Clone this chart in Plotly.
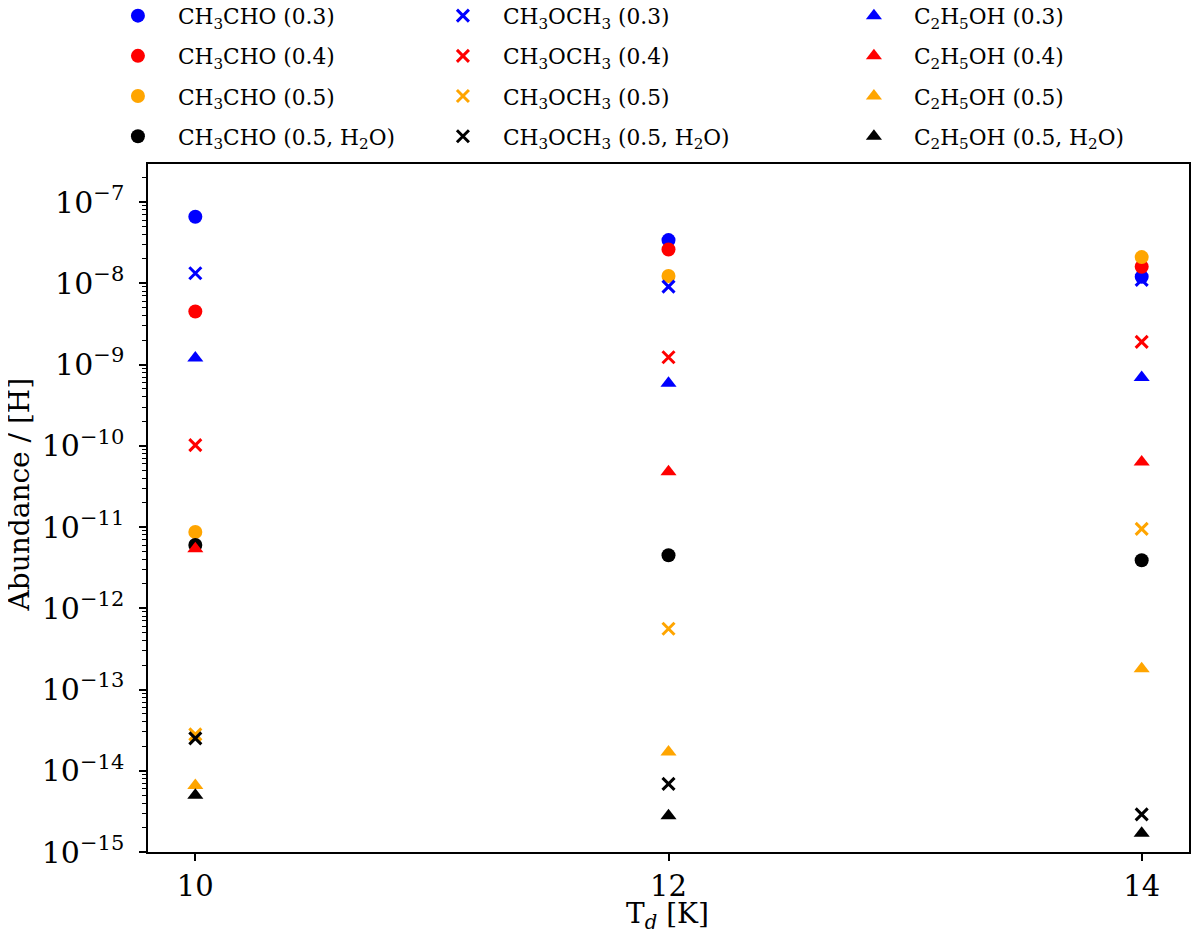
import plotly.graph_objects as go

# temperaturas del polvo
temps = [10, 12, 14]

# CH3CHO
acet_03 = [6.6e-8, 3.4e-8, 1.2e-8]
acet_04 = [4.5e-9, 2.6e-8, 1.6e-8]
acet_05 = [8.7e-12, 1.23e-8, 2.1e-8]
acet_h2o = [6.0e-12, 4.5e-12, 3.9e-12]

# CH3OCH3
dme_03 = [1.33e-8, 9.1e-9, 1.1e-8]
dme_04 = [1.02e-10, 1.23e-9, 1.9e-9]
dme_05 = [2.8e-14, 5.6e-13, 9.5e-12]
dme_h2o = [2.5e-14, 6.9e-15, 2.9e-15]

# C2H5OH
eth_03 = [1.2e-9, 5.9e-10, 6.9e-10]
eth_04 = [5.4e-12, 4.8e-11, 6.3e-11]
eth_05 = [6.6e-15, 1.7e-14, 1.8e-13]
eth_h2o = [5.0e-15, 2.8e-15, 1.7e-15]

# etiquetas del eje y
y_exps = [-15, -14, -13, -12, -11, -10, -9, -8, -7]
ytick_vals = [10.0 ** e for e in y_exps]
ytick_text = [f"10<sup>\u2212{-e}</sup>\u2009\u200a" for e in y_exps]

cases = ["(0.3)", "(0.4)", "(0.5)", "(0.5, H<sub>2</sub>O)"]
colors = ["blue", "red", "orange", "black"]

species = [
    ("CH<sub>3</sub>CHO", "circle", [acet_03, acet_04, acet_05, acet_h2o], "legend"),
    ("CH<sub>3</sub>OCH<sub>3</sub>", "x-thin", [dme_03, dme_04, dme_05, dme_h2o], "legend2"),
    ("C<sub>2</sub>H<sub>5</sub>OH", "triangle-up", [eth_03, eth_04, eth_05, eth_h2o], "legend3"),
]

FONT = "DejaVu Serif"
YRANGE = [-15, -6.532]

fig = go.Figure()
for name, symbol, series, leg in species:
    for case, color, vals in zip(cases, colors, series):
        if symbol == "x-thin":
            marker = dict(symbol=symbol, size=12, color=color, line=dict(color=color, width=3))
        else:
            marker = dict(symbol=symbol, size=14, color=color, line=dict(width=0))
        fig.add_trace(go.Scatter(x=temps, y=vals, mode="markers", marker=marker,
                                 name=f"{name} {case}", legend=leg,
                                 legendgroup=f"{name}{case}"))

# traza invisible para que se dibuje el eje de ticks menores
fig.add_trace(go.Scatter(x=temps[:1], y=acet_03[:1], yaxis="y2", mode="markers",
                         marker=dict(opacity=0), showlegend=False, hoverinfo="skip"))

# ticks menores del eje log (2..9 de cada década)
minor_vals = [k * 10.0 ** e for e in range(-15, -6) for k in range(2, 10)]

# leyendas de 3 columnas encima del gráfico
leg_common = dict(xanchor="left", yanchor="top", y=1.2456,
                  bgcolor="rgba(0,0,0,0)", borderwidth=0, itemwidth=70,
                  tracegroupgap=9, font=dict(family=FONT, size=21.7, color="black"))

# la página tiene 8px de margen en el body, así que se compensa aquí
fig.update_layout(
    width=1192, height=932,
    margin=dict(l=140, r=11, t=156, b=88, autoexpand=False),
    paper_bgcolor="white", plot_bgcolor="white",
    font=dict(family=FONT, color="black"),
    legend=dict(x=-0.0481, **leg_common),
    legend2=dict(x=0.2641, **leg_common),
    legend3=dict(x=0.6589, **leg_common),
    yaxis2=dict(overlaying="y", side="left", type="log", range=YRANGE,
                tickmode="array", tickvals=minor_vals, ticks="outside", ticklen=5,
                tickwidth=1.3, tickcolor="black", showticklabels=False,
                showline=False, showgrid=False, zeroline=False),
)

fig.update_xaxes(range=[9.8, 14.2], tickvals=temps, ticks="outside", ticklen=7,
                 tickwidth=1.5, tickcolor="black", showline=True, linecolor="black",
                 linewidth=1.5, mirror=True, showgrid=False, zeroline=False,
                 tickfont=dict(family=FONT, size=29))
fig.update_layout(yaxis=dict(type="log", range=YRANGE, tickmode="array",
                             tickvals=ytick_vals, ticktext=ytick_text,
                             ticks="outside", ticklen=7, tickwidth=1.5, tickcolor="black",
                             showline=True, linecolor="black", linewidth=1.5, mirror=True,
                             showgrid=False, zeroline=False,
                             tickfont=dict(family=FONT, size=30)))

# títulos de los ejes como anotaciones
fig.add_annotation(text="Abundance / [H]", textangle=-90, xref="paper", yref="paper",
                   x=-0.1412, y=0.519, xanchor="left", yanchor="middle", showarrow=False,
                   font=dict(family=FONT, size=28))
fig.add_annotation(text="T<sub><i>d</i></sub> [K]", xref="paper", yref="paper",
                   x=0.4995, y=-0.0916, xanchor="center", yanchor="middle", showarrow=False,
                   font=dict(family=FONT, size=28))

fig.write_html("out.html")
